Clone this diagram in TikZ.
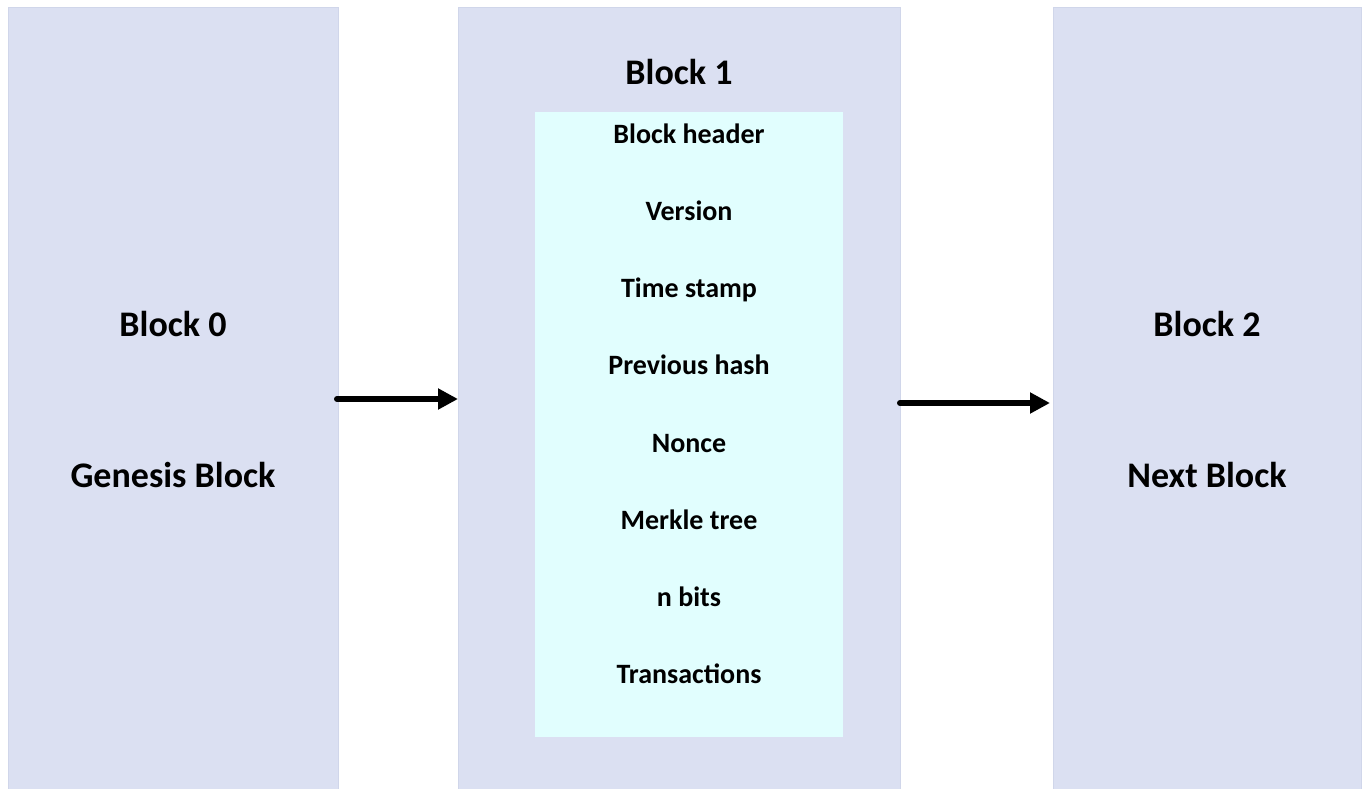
\documentclass[tikz,border=0pt]{standalone}
\usepackage{fontspec}
\setmainfont{Carlito}
\usetikzlibrary{arrows.meta}
\definecolor{blockblue}{RGB}{219,224,242}
\definecolor{blockedge}{RGB}{208,214,234}
\definecolor{innercyan}{RGB}{225,254,254}
\tikzset{
  blk/.style={fill=blockblue, draw=blockedge, line width=1pt, inner sep=0pt, anchor=north west},
  inner/.style={fill=innercyan, draw=none, inner sep=0pt, anchor=north west},
  bigtxt/.style={font=\fontsize{36}{40}\selectfont\bfseries, anchor=base, inner sep=0pt},
  itemtxt/.style={font=\fontsize{28}{32}\selectfont\bfseries, anchor=base, inner sep=0pt},
  conn/.style={line width=6pt, line cap=round, -{Triangle[length=20pt,width=20pt]}}
}
\begin{document}
\begin{tikzpicture}[x=1pt,y=-1pt]
\useasboundingbox (0,0) rectangle (1368,789);
\node[blk, minimum width=330pt, minimum height=784pt] (b0) at (8,7) {};
\node[blk, minimum width=442pt, minimum height=784pt] (b1) at (458,7) {};
\node[blk, minimum width=308pt, minimum height=784pt] (b2) at (1053,7) {};
\node[inner, minimum width=308pt, minimum height=625pt] (ib) at (535,112) {};

\node[bigtxt] (t0a) at (173,336) {Block 0};
\node[bigtxt] (t0b) at (173,487) {Genesis Block};
\node[bigtxt] (t2a) at (1207,336) {Block 2};
\node[bigtxt] (t2b) at (1207,487) {Next Block};
\node[bigtxt] (t1) at (679,85) {Block 1};

\node[itemtxt] (i1) at (689,143) {Block header};
\node[itemtxt] (i2) at (689,220) {Version};
\node[itemtxt] (i3) at (689,297) {Time stamp};
\node[itemtxt] (i4) at (689,374) {Previous hash};
\node[itemtxt] (i5) at (689,452) {Nonce};
\node[itemtxt] (i6) at (689,529) {Merkle tree};
\node[itemtxt] (i7) at (689,606) {n bits};
\node[itemtxt] (i8) at (689,683) {Transactions};

\coordinate (a1s) at (337,399);
\coordinate (a2s) at (900,403);
\draw[conn] (a1s) -- (a1s -| b1.west);
\draw[conn] (a2s) -- ([xshift=-3pt]a2s -| b2.west);
\end{tikzpicture}
\end{document}
